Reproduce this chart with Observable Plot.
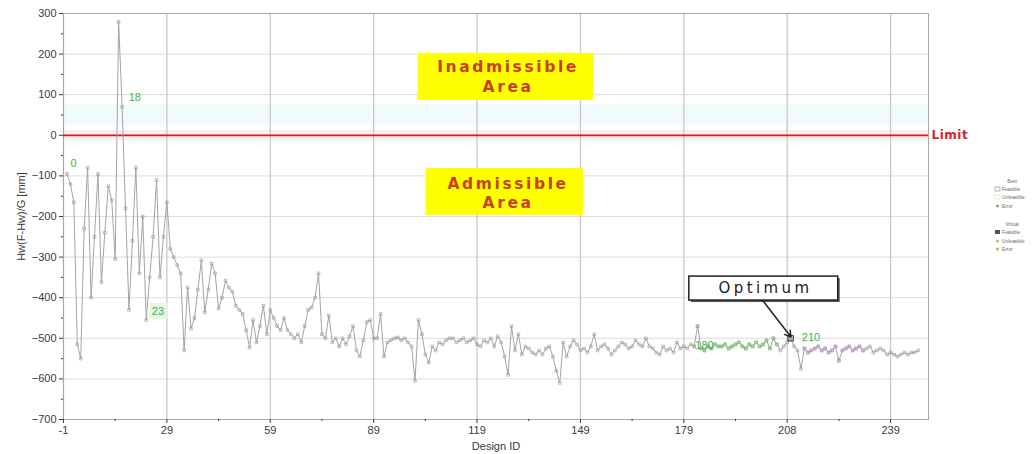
<!DOCTYPE html>
<html><head><meta charset="utf-8">
<script src="https://cdn.jsdelivr.net/npm/d3@7"></script>
<script src="https://cdn.jsdelivr.net/npm/@observablehq/plot@0.6"></script>
<style>
body{margin:0;background:#fff}
#chart{position:relative;width:1033px;height:454px}
</style>
</head><body><div id="chart"></div>
<script>
// Objective value Hw(F-Hw)/G [mm] for each design, Design ID 0..247
const values = [
  -95, -120, -165, -515, -550, -230, -80, -400, -250, -95,
  -362, -240, -125, -160, -305, 280, 70, -180, -430, -260,
  -80, -340, -200, -455, -350, -250, -110, -350, -250, -165,
  -280, -300, -320, -340, -530, -375, -476, -450, -380, -308,
  -436, -380, -316, -340, -427, -400, -358, -375, -385, -420,
  -430, -440, -480, -523, -455, -510, -470, -420, -490, -430,
  -450, -470, -480, -450, -480, -490, -500, -490, -510, -470,
  -430, -424, -400, -340, -490, -500, -444, -510, -500, -520,
  -500, -515, -495, -470, -530, -545, -505, -460, -455, -500,
  -500, -440, -545, -510, -505, -500, -498, -505, -500, -510,
  -520, -605, -455, -490, -540, -560, -520, -530, -510, -515,
  -505, -500, -500, -510, -505, -500, -510, -505, -500, -515,
  -520, -505, -510, -500, -520, -495, -510, -545, -590, -470,
  -530, -490, -540, -520, -525, -535, -540, -530, -540, -525,
  -520, -545, -580, -610, -510, -545, -520, -505, -515, -530,
  -525, -535, -520, -490, -530, -520, -515, -525, -540, -530,
  -520, -510, -515, -525, -520, -505, -515, -520, -500, -520,
  -525, -535, -540, -520, -530, -525, -535, -510, -525, -520,
  -525, -515, -520, -470, -525, -530, -520, -525, -515, -520,
  -520, -515, -525, -520, -515, -510, -520, -525, -515, -520,
  -510, -520, -515, -505, -525, -500, -515, -530, -520, -510,
  -500, -520, -530, -575, -525, -535, -530, -525, -520, -530,
  -525, -535, -530, -520, -555, -530, -525, -520, -530, -525,
  -520, -530, -525, -520, -535, -530, -525, -530, -540, -535,
  -540, -545, -540, -535, -540, -535, -535, -530
];
const xTicks = [-1, 29, 59, 89, 119, 149, 179, 209, 239];
const xTickLabels = ["-1", "29", "59", "89", "119", "149", "179", "208", "239"];
const xMinor = [14, 44, 74, 104, 134, 164, 194, 224];
const yTicks = [-700, -600, -500, -400, -300, -200, -100, 0, 100, 200, 300];
const yMinor = [-650, -550, -450, -350, -250, -150, -50, 50, 150, 250];
const pointLabels = ["0", "18", "23", "180", "210"];
const pointLabelX = [1.9, 19.7, 26.4, 185, 215.9];
const pointLabelY = [-69, 93, -434, -518, -498];
const optimumId = 210;
const limitValue = 0;

const data = values.map((v, i) => ({id: i, v}));
const greenPts = data.filter(d => d.id >= 182 && d.id <= 206);
const purplePts = data.filter(d => d.id >= 214 && d.id <= 231);
const labels = pointLabels.map((t, i) => ({t, x: pointLabelX[i], y: pointLabelY[i]}));

const chart = Plot.plot({
  width: 1033, height: 454,
  marginLeft: 63, marginRight: 105, marginTop: 13, marginBottom: 35,
  style: {fontFamily: "'Liberation Sans', Arial, sans-serif", fontSize: "11px", color: "#3a3a3a", background: "#fff", overflow: "visible"},
  x: {domain: [-1, 250]},
  y: {domain: [-700, 300]},
  marks: [
    Plot.rect([{}], {x1: -1, x2: 250, y1: 25, y2: 75, fill: "#f1fbfb"}),
    Plot.rect([{}], {x1: -1, x2: 250, y1: -12, y2: 12, fill: "#fdeeee"}),
    Plot.ruleY(yTicks, {stroke: "#dcdcdc"}),
    Plot.ruleX(xTicks, {stroke: "#c8c8c8", strokeWidth: 1.3}),
    Plot.frame({stroke: "#a8a8a8"}),
    Plot.axisY({ticks: yTicks, tickSize: 4, tickPadding: 3, label: "Hw(F-Hw)/G [mm]", labelAnchor: "center", labelArrow: "none", labelOffset: 46, fontSize: 11}),
    Plot.axisY({ticks: yMinor, tickSize: 2, tickFormat: () => "", label: null}),
    Plot.axisX({ticks: xTicks, tickFormat: (d, i) => xTickLabels[i], tickSize: 4, tickPadding: 3, label: "Design ID", labelAnchor: "center", labelArrow: "none", labelOffset: 30, fontSize: 11}),
    Plot.axisX({ticks: xMinor, tickSize: 2, tickFormat: () => "", label: null}),
    Plot.ruleY([limitValue], {stroke: "#cc1f26", strokeWidth: 1.8}),
    Plot.text(["Limit"], {x: 250, y: limitValue, dx: 3, text: d => d, textAnchor: "start", fill: "#d8232a", fontWeight: "bold", fontSize: 12, fontFamily: "DejaVu Sans"}),
    // yellow area boxes
    Plot.rect([{}], {x1: 101.9, x2: 152.9, y1: 201.5, y2: 85.7, fill: "#ffff00"}),
    Plot.rect([{}], {x1: 104.2, x2: 150, y1: -81.8, y2: -197.5, fill: "#ffff00"}),
    Plot.text(["Inadmissible", "Area", "Admissible", "Area"], {
      x: 128, y: [167, 117.7, -121, -168], text: d => d,
      fill: "#c8401e", fontWeight: "bold", fontSize: 15.5, fontFamily: "DejaVu Sans"}),
    // series
    Plot.line(data, {x: "id", y: "v", stroke: "#a4a4a4", strokeWidth: 1}),
    Plot.dot(data, {x: "id", y: "v", symbol: "square", r: 1.5, stroke: "#939393", strokeWidth: 0.6, fill: "none"}),
    Plot.dot(greenPts, {x: "id", y: "v", symbol: "square", r: 1.5, stroke: "#6cc86c", strokeWidth: 0.8, fill: "none"}),
    Plot.dot(purplePts, {x: "id", y: "v", symbol: "square", r: 1.5, stroke: "#b898c8", strokeWidth: 0.8, fill: "none"}),
    Plot.dot(data.filter(d => d.id === optimumId), {x: "id", y: "v", symbol: "square", r: 3, stroke: "#222", strokeWidth: 1, fill: "none"}),
    // green point labels
    Plot.rect([{}], {x1: 24, x2: 29.3, y1: -414, y2: -454, fill: "#e4f7e4"}),
    Plot.text(labels, {x: "x", y: "y", text: "t", fill: "#3fb44a", fontSize: 11}),
    // optimum callout
    Plot.rect([{}], {x1: 180.6, x2: 223.8, y1: -348, y2: -407, fill: "#555", dx: 2, dy: 2}),
    Plot.rect([{}], {x1: 180.6, x2: 223.8, y1: -348, y2: -407, fill: "#fff", stroke: "#222", strokeWidth: 1.5}),
    Plot.text(["Optimum"], {x: 202.7, y: -377, text: d => d, fill: "#222", fontSize: 15, fontFamily: "DejaVu Sans"}),
    Plot.arrow([{}], {x1: 201.9, y1: -407, x2: 210.1, y2: -497, stroke: "#222", strokeWidth: 1.5, headLength: 7, bend: 0})
  ]
});
document.getElementById("chart").appendChild(chart);
const svg = d3.select(chart);
const spacing = {"Inadmissible": "2.6px", "Admissible": "2.6px", "Area": "2.6px", "Optimum": "3.4px", "Limit": "0.5px"};
svg.selectAll("text").each(function() {
  const t = this.textContent;
  if (spacing[t] && this.childElementCount === 0) d3.select(this).attr("letter-spacing", spacing[t]);
});

// tiny legend (right side)
const legend = svg.append("g").attr("font-family", "'Liberation Sans', Arial, sans-serif").attr("font-size", 4.8).attr("fill", "#6a6a6a").attr("text-anchor", "start");
const legendRows = [
  {t: "Best", y: 183, head: true},
  {t: "Feasible", y: 191, sym: "sq", c: "#888"},
  {t: "Unfeasible", y: 199, sym: "sq", c: "#e8e0a0"},
  {t: "Error", y: 208, sym: "dia", c: "#999"},
  {t: "Virtual", y: 226, head: true},
  {t: "Feasible", y: 234, sym: "fill", c: "#4a5a4a"},
  {t: "Unfeasible", y: 243, sym: "dia", c: "#e0b070"},
  {t: "Error", y: 251, sym: "dia", c: "#e8a060"}
];
for (const r of legendRows) {
  if (r.head) {
    legend.append("text").attr("x", 1012).attr("y", r.y).attr("text-anchor", "middle").text(r.t);
  } else {
    if (r.sym === "fill") legend.append("rect").attr("x", 995).attr("y", r.y - 4).attr("width", 5).attr("height", 4).attr("fill", r.c);
    else if (r.sym === "sq") legend.append("rect").attr("x", 995).attr("y", r.y - 4).attr("width", 5).attr("height", 4).attr("fill", "none").attr("stroke", r.c).attr("stroke-width", 0.6);
    else legend.append("circle").attr("cx", 997.5).attr("cy", r.y - 2).attr("r", 1.6).attr("fill", r.c);
    legend.append("text").attr("x", 1002).attr("y", r.y).attr("text-anchor", "start").text(r.t);
  }
}
</script>
</body></html>
